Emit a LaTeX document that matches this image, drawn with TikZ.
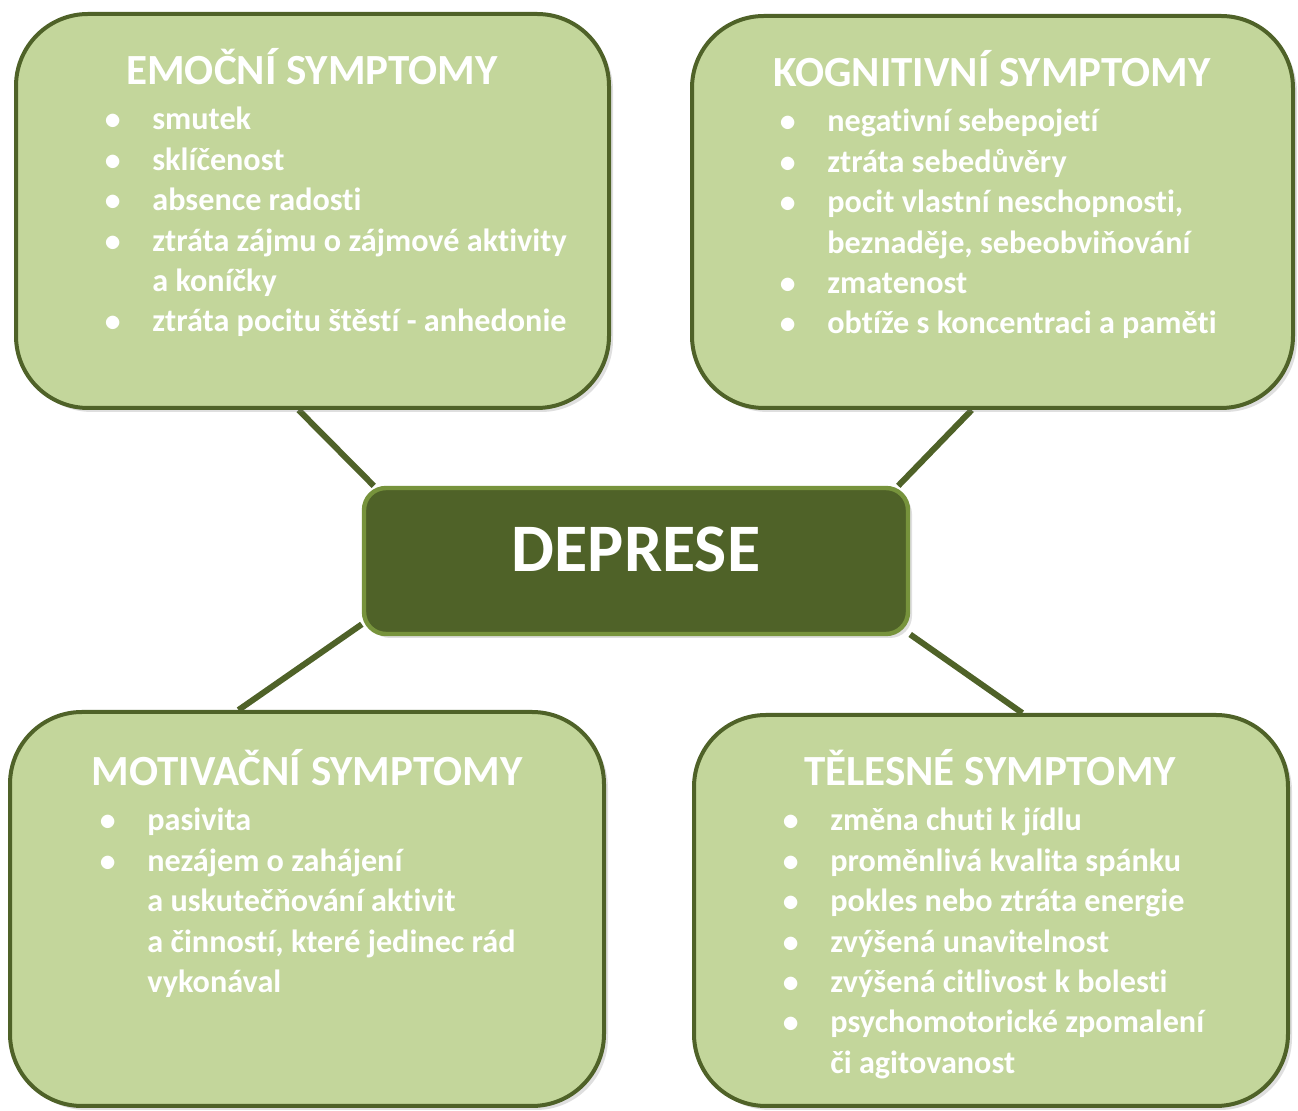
\documentclass[tikz,border=0pt]{standalone}
\usepackage{fontspec}
\setmainfont{Carlito}[Ligatures=NoCommon]
\usetikzlibrary{fit,shadows,positioning}

\definecolor{leafgreen}{HTML}{C3D69B}
\definecolor{darkolive}{HTML}{4F6228}
\definecolor{midolive}{HTML}{77933C}

\pgfdeclarelayer{paper}
\pgfdeclarelayer{spokes}
\pgfsetlayers{paper,spokes,main}

\newcommand{\symitems}[1]{\begin{tabular}[t]{@{}p{24pt}@{}l@{}}#1\end{tabular}}
\newcommand{\bul}{$\bullet$}

\begin{document}
\begin{tikzpicture}[x=0.5pt,y=-0.5pt,
  symbox/.style={draw=darkolive, line width=2pt, fill=leafgreen, rounded corners=36pt,
    inner sep=0pt, drop shadow={shadow xshift=2pt, shadow yshift=-2pt, opacity=0.25}},
  mainbox/.style={draw=midolive, line width=2.2pt, fill=darkolive, rounded corners=11pt,
    inner sep=0pt, drop shadow={shadow xshift=2pt, shadow yshift=-2pt, opacity=0.25}},
  spoke/.style={draw=darkolive, line width=3pt},
  boxtitle/.style={text=white, anchor=base, inner sep=0pt, font=\bfseries\fontsize{21.5}{26}\selectfont},
  boxlist/.style={text=white, anchor=base west, inner sep=0pt, font=\bfseries\fontsize{16.1}{20.2}\selectfont}]
  \begin{pgfonlayer}{paper}
    \useasboundingbox[fill=white] (0,0) rectangle (1298,1111);
  \end{pgfonlayer}

  % boxes
  \node[symbox, fit={(16,14) (609,408)}] (emo) {};
  \node[symbox, fit={(692,16) (1293,408)}] (kog) {};
  \node[symbox, fit={(10,712) (604,1106)}] (mot) {};
  \node[symbox, fit={(694,715) (1288,1106)}] (tel) {};
  \node[mainbox, fit={(364,488) (908,634)}] (dep) {};

  % spokes, under the boxes
  \begin{pgfonlayer}{spokes}
    \draw[spoke] (emo.-94) -- (dep.164);
    \draw[spoke] (kog.-96) -- (dep.16);
    \draw[spoke] (mot.109) -- (dep.193);
    \draw[spoke] (tel.81) -- (dep.-15);
  \end{pgfonlayer}

  \node[text=white, anchor=base, font=\bfseries\fontsize{34}{40}\selectfont] (deptxt) at (636,572) {DEPRESE};

  \node[boxtitle] (emot) at (312,85) {EMOČNÍ SYMPTOMY};
  \node[boxlist] (emol) at (104,130) {\symitems{
    \bul & smutek \\
    \bul & sklíčenost \\
    \bul & absence radosti \\
    \bul & ztráta zájmu o zájmové aktivity \\
         & a koníčky \\
    \bul & ztráta pocitu štěstí - anhedonie \\}};

  \node[boxtitle] (kogt) at (992,87) {KOGNITIVNÍ SYMPTOMY};
  \node[boxlist] (kogl) at (779,132) {\symitems{
    \bul & negativní sebepojetí \\
    \bul & ztráta sebedůvěry \\
    \bul & pocit vlastní neschopnosti, \\
         & beznaděje, sebeobviňování \\
    \bul & zmatenost \\
    \bul & obtíže s koncentraci a paměti \\}};

  \node[boxtitle] (mott) at (307,786) {MOTIVAČNÍ SYMPTOMY};
  \node[boxlist] (motl) at (99,831) {\symitems{
    \bul & pasivita \\
    \bul & nezájem o zahájení \\
         & a uskutečňování aktivit \\
         & a činností, které jedinec rád \\
         & vykonával \\}};

  \node[boxtitle] (telt) at (990,786) {TĚLESNÉ SYMPTOMY};
  \node[boxlist] (tell) at (782,831) {\symitems{
    \bul & změna chuti k jídlu \\
    \bul & proměnlivá kvalita spánku \\
    \bul & pokles nebo ztráta energie \\
    \bul & zvýšená unavitelnost \\
    \bul & zvýšená citlivost k bolesti \\
    \bul & psychomotorické zpomalení \\
         & či agitovanost \\}};
\end{tikzpicture}
\end{document}
